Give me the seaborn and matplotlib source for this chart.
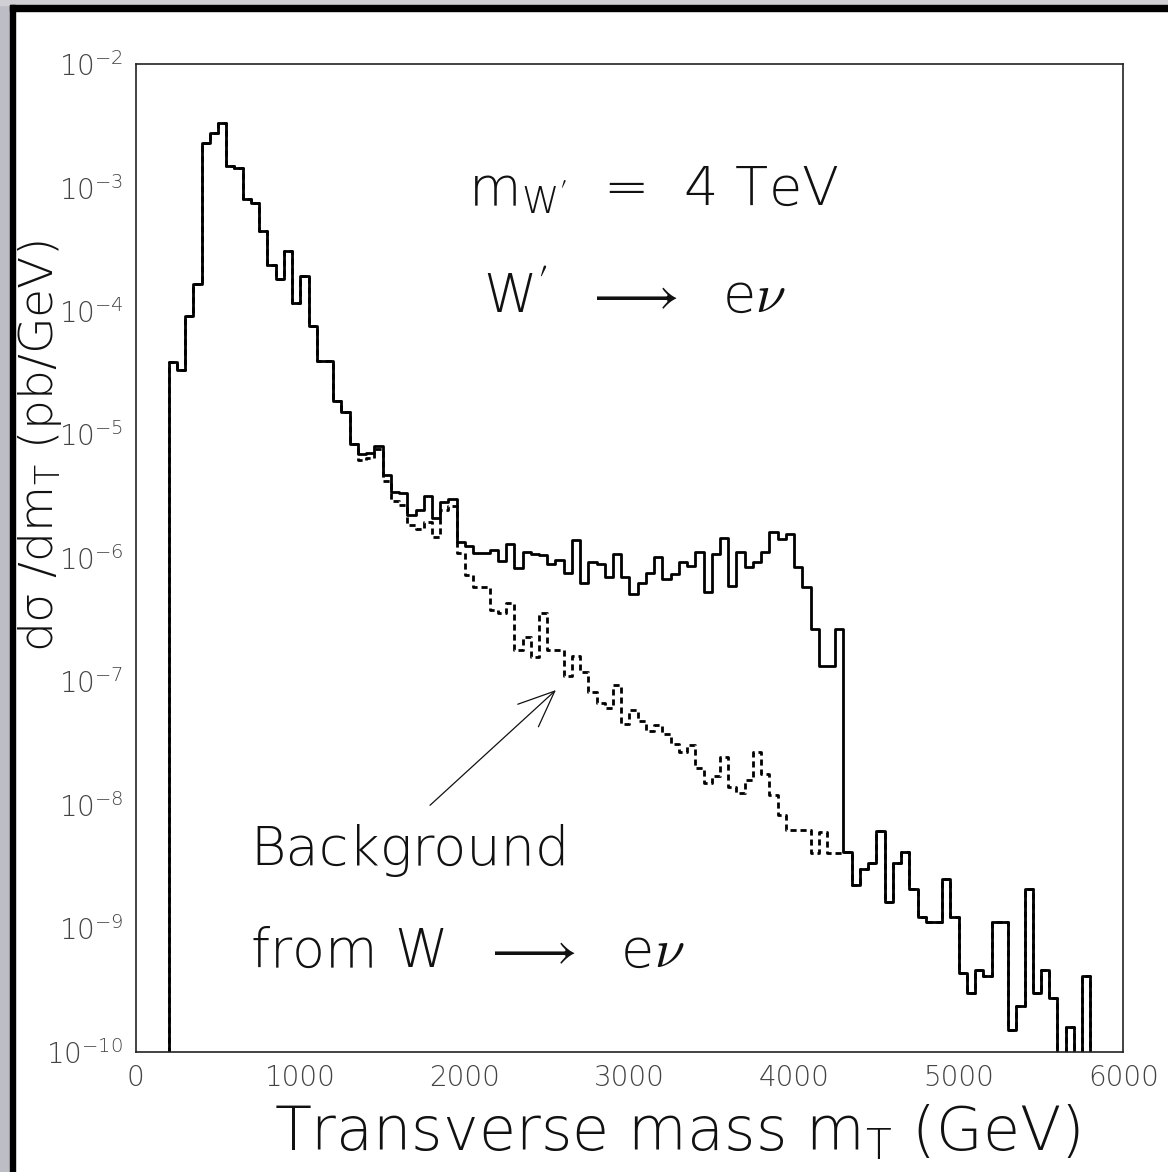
import numpy as np
import pandas as pd
import matplotlib
matplotlib.use("Agg")
import matplotlib.pyplot as plt
import seaborn as sns
from matplotlib import font_manager as fm
from matplotlib.patches import Rectangle
from matplotlib.ticker import LogLocator, MultipleLocator, FuncFormatter, NullFormatter

# Transverse-mass binning: 120 bins of 50 GeV from 0 to 6000 GeV
mt_min, mt_max = 0.0, 6000.0
bin_width = 50.0

# d(sigma)/dm_T in pb/GeV for W' (m = 4 TeV) -> e nu plus the W -> e nu background
total_xsec = [
    0, 0, 0, 0,
    3.84e-5, 3.33e-5, 9.2e-5, 1.66e-4, 2.29e-3, 2.75e-3, 3.36e-3, 1.50e-3,
    1.43e-3, 8.1e-4, 7.5e-4, 4.45e-4, 2.36e-4, 1.82e-4, 3.06e-4, 1.17e-4,
    1.93e-4, 7.6e-5, 3.96e-5, 3.93e-5, 1.87e-5, 1.52e-5, 8.4e-6, 6.9e-6,
    7.1e-6, 8.1e-6, 4.7e-6, 3.43e-6, 3.33e-6, 2.22e-6, 2.44e-6, 3.17e-6,
    2.11e-6, 2.85e-6, 3.0e-6, 1.34e-6, 1.25e-6, 1.09e-6, 1.09e-6, 1.16e-6,
    9.4e-7, 1.29e-6, 8.3e-7, 1.12e-6, 1.07e-6, 1.05e-6, 8.9e-7, 9.6e-7,
    7.5e-7, 1.39e-6, 6.3e-7, 9.2e-7, 9.0e-7, 7.0e-7, 1.07e-6, 6.95e-7,
    5.1e-7, 6.3e-7, 7.5e-7, 1.01e-6, 6.8e-7, 7.4e-7, 9.3e-7, 8.6e-7,
    1.12e-6, 5.3e-7, 1.07e-6, 1.44e-6, 5.9e-7, 1.11e-6, 8.5e-7, 9.3e-7,
    1.12e-6, 1.63e-6, 1.42e-6, 1.56e-6, 8.5e-7, 5.8e-7, 2.65e-7, 1.34e-7,
    1.34e-7, 2.63e-7, 4.15e-9, 2.23e-9, 2.99e-9, 3.38e-9, 6.1e-9, 1.63e-9,
    3.38e-9, 4.15e-9, 2.06e-9, 1.24e-9, 1.12e-9, 1.12e-9, 2.48e-9, 1.24e-9,
    4.3e-10, 3.0e-10, 4.6e-10, 4.1e-10, 1.12e-9, 1.12e-9, 1.51e-10, 2.35e-10,
    2.07e-9, 3.0e-10, 4.6e-10, 2.74e-10, 0, 1.57e-10, 0, 4.1e-10,
    0, 0, 0, 0,
]

# d(sigma)/dm_T in pb/GeV for the W -> e nu background alone
background_xsec = [
    0, 0, 0, 0,
    3.84e-5, 3.33e-5, 9.2e-5, 1.66e-4, 2.29e-3, 2.75e-3, 3.36e-3, 1.50e-3,
    1.43e-3, 8.1e-4, 7.5e-4, 4.45e-4, 2.36e-4, 1.82e-4, 3.06e-4, 1.17e-4,
    1.93e-4, 7.6e-5, 3.96e-5, 3.93e-5, 1.87e-5, 1.52e-5, 8.4e-6, 6.2e-6,
    6.5e-6, 7.6e-6, 4.2e-6, 2.9e-6, 2.68e-6, 1.85e-6, 1.71e-6, 1.96e-6,
    1.47e-6, 2.46e-6, 2.65e-6, 1.09e-6, 7.3e-7, 5.8e-7, 5.8e-7, 3.78e-7,
    3.6e-7, 4.3e-7, 1.79e-7, 2.27e-7, 1.58e-7, 3.6e-7, 1.81e-7, 1.79e-7,
    1.10e-7, 1.59e-7, 1.19e-7, 8.2e-8, 6.7e-8, 6.1e-8, 9.3e-8, 4.5e-8,
    5.9e-8, 4.76e-8, 3.97e-8, 4.46e-8, 3.77e-8, 3.13e-8, 2.68e-8, 3.07e-8,
    1.98e-8, 1.49e-8, 1.7e-8, 2.42e-8, 1.4e-8, 1.24e-8, 1.6e-8, 2.68e-8,
    1.79e-8, 1.2e-8, 8.2e-9, 6.2e-9, 6.2e-9, 6.2e-9, 4.1e-9, 6.0e-9,
    4.1e-9, 4.1e-9, 4.15e-9, 2.23e-9, 2.99e-9, 3.38e-9, 6.1e-9, 1.63e-9,
    3.38e-9, 4.15e-9, 2.06e-9, 1.24e-9, 1.12e-9, 1.12e-9, 2.48e-9, 1.24e-9,
    4.3e-10, 3.0e-10, 4.6e-10, 4.1e-10, 1.12e-9, 1.12e-9, 1.51e-10, 2.35e-10,
    2.07e-9, 3.0e-10, 4.6e-10, 2.74e-10, 0, 1.57e-10, 0, 4.1e-10,
    0, 0, 0, 0,
]

edges = np.arange(mt_min, mt_max + bin_width / 2, bin_width)
centers = edges[:-1] + bin_width / 2
hist = pd.DataFrame({"mT": centers, "total": total_xsec, "background": background_xsec})
bin_list = [float(b) for b in edges]


def pick_thin_font():
    families = ["DejaVu Sans", "Open Sans", "Roboto", "Lato", "Inter", "Noto Sans"]
    for fam in families:
        found = []
        for e in fm.fontManager.ttflist:
            w = e.weight if isinstance(e.weight, (int, float)) else fm.weight_dict.get(str(e.weight), 400)
            if e.name.startswith(fam) and e.style == "normal" and w <= 300:
                found.append((w, e.name))
        if found:
            found.sort()
            return found[0][1], int(found[0][0])
    return "DejaVu Sans", 400


sns.set_theme(style="white")
font_name, font_weight = pick_thin_font()
plt.rcParams["font.family"] = [font_name, "DejaVu Sans"]
plt.rcParams["font.weight"] = font_weight
plt.rcParams["axes.labelweight"] = font_weight
plt.rcParams["mathtext.fontset"] = "cm"

W, H = 1168, 1172
fig = plt.figure(figsize=(W / 100, H / 100), dpi=100, facecolor="white")

# canvas bevel: grey outer strip with a black inner edge on the left and top
fig.patches.append(Rectangle((0, 0), 10 / W, 1, transform=fig.transFigure, color="#bdbdc5", zorder=0))
fig.patches.append(Rectangle((0, 1 - 5 / H), 1, 5 / H, transform=fig.transFigure, color="#d0d0d4", zorder=0))
fig.patches.append(Rectangle((10 / W, 0), 5 / W, 1 - 5 / H, transform=fig.transFigure, color="black", zorder=1))
fig.patches.append(Rectangle((10 / W, 1 - 11 / H), 1 - 10 / W, 6 / H, transform=fig.transFigure, color="black", zorder=1))

ax = fig.add_axes([135.7 / W, 1 - 1051.6 / H, 987.6 / W, 987.4 / H])
ax.set_facecolor("white")
ax.set_yscale("log")

sns.histplot(data=hist, x="mT", weights="background", bins=bin_list, element="step",
             fill=False, color="black", linewidth=2.0, linestyle=(0, (2.2, 1.4)), ax=ax)
sns.histplot(data=hist, x="mT", weights="total", bins=bin_list, element="step",
             fill=False, color="black", linewidth=2.0, ax=ax)

ax.set_xlim(mt_min, mt_max)
ax.set_ylim(1e-10, 1e-2)

for s in ax.spines.values():
    s.set_visible(True)
    s.set_color("#222222")
    s.set_linewidth(1.2)

ax.xaxis.set_major_locator(MultipleLocator(1000))
ax.xaxis.set_minor_locator(MultipleLocator(200))
ax.xaxis.set_major_formatter(FuncFormatter(lambda v, p: f"{int(round(v))}"))
ax.yaxis.set_major_locator(LogLocator(base=10, numticks=20))
ax.yaxis.set_minor_locator(LogLocator(base=10, subs=np.arange(2, 10), numticks=200))
ax.yaxis.set_major_formatter(FuncFormatter(lambda v, p: r"$\mathregular{10^{%d}}$" % int(round(np.log10(v)))))
ax.yaxis.set_minor_formatter(NullFormatter())

ax.tick_params(axis="both", which="both", direction="in", colors="#555555",
               labelcolor="#444444", labelsize=20, top=False, right=False)
ax.tick_params(axis="both", which="major", length=13, width=0.9, pad=9)
ax.tick_params(axis="both", which="minor", length=6.5, width=0.9)
for lbl in ax.get_xticklabels() + ax.get_yticklabels():
    lbl.set_fontweight(font_weight)

ax.set_xlabel(r"Transverse mass $\mathregular{m_{T}}$ (GeV)", fontsize=43.5,
              fontweight=font_weight, color="#111111")
ax.xaxis.set_label_coords((677 - 135.7) / 987.6, (1051.6 - 1150) / 987.4)
ax.xaxis.label.set_va("baseline")
ax.set_ylabel(r"dσ /d$\mathregular{m_{T}}$ (pb/GeV)", fontsize=34,
              fontweight=font_weight, color="#111111")
ax.yaxis.set_label_coords((40 - 135.7) / 987.6, (1051.6 - 446) / 987.4)
ax.yaxis.label.set_va("center")

# annotations
txt = dict(fontsize=39, color="#111111", fontweight=font_weight)
fig.text(468 / W, 1 - 205 / H, r"$\mathregular{m_{W'}}$  =  4 TeV", **txt)
fig.text(483 / W, 1 - 312 / H, r"$\mathregular{W'}$  $\longrightarrow$  e$\nu$", **txt)
fig.text(250 / W, 1 - 865 / H, "Background", **txt)
fig.text(250 / W, 1 - 967 / H, r"from W  $\longrightarrow$  e$\nu$", **txt)

ax.annotate("", xy=(2553, 8.5e-8), xytext=(1788, 9.9e-9),
            arrowprops=dict(arrowstyle="->,head_length=1.3,head_width=0.55",
                            mutation_scale=20, color="#111111", lw=0.9, shrinkA=0, shrinkB=0))

fig.savefig("out.png", dpi=100, facecolor="white")
